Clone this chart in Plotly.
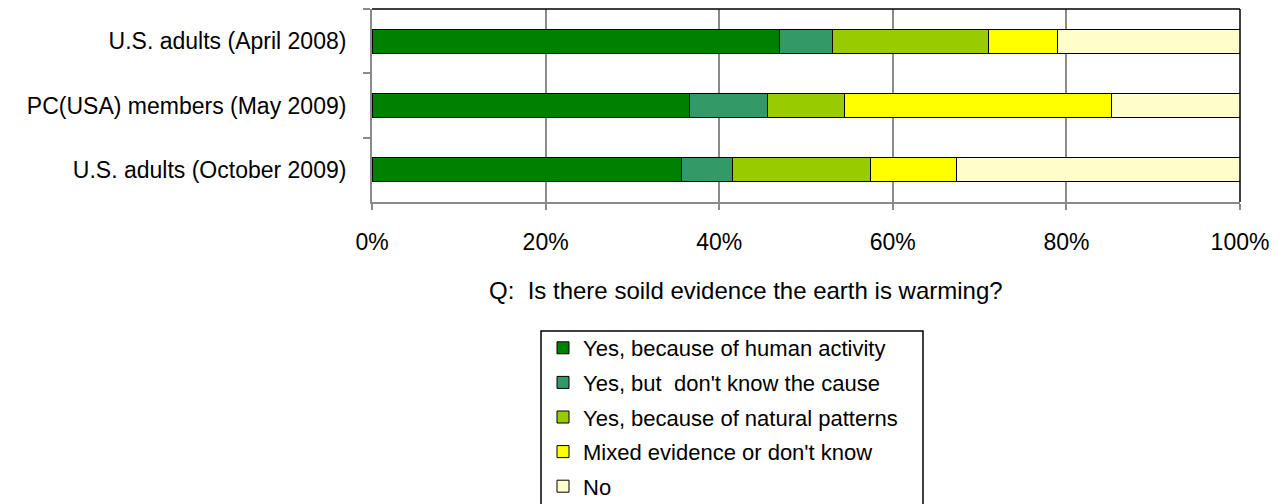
import plotly.graph_objects as go

# Survey groups (top to bottom) and response shares in percent
groups = ["U.S. adults (April 2008)", "PC(USA) members (May 2009)", "U.S. adults (October 2009)"]
human_activity = [47, 37, 36]
unknown_cause = [6, 9, 6]
natural_patterns = [18, 9, 16]
mixed_or_unsure = [8, 31, 10]
no_evidence = [21, 15, 33]

series_names = [
    "Yes, because of human activity",
    "Yes, but  don't know the cause",
    "Yes, because of natural patterns",
    "Mixed evidence or don't know",
    "No",
]
series_values = [human_activity, unknown_cause, natural_patterns, mixed_or_unsure, no_evidence]
series_colors = ["#008000", "#339966", "#99CC00", "#FFFF00", "#FFFFCC"]

x_ticks = [0, 20, 40, 60, 80, 100]
x_tick_text = ["0%", "20%", "40%", "60%", "80%", "100%"]

FONT = "Liberation Sans, Arial, sans-serif"
GRID = "#8a8a8a"

fig = go.Figure()
for i, (name, vals, color) in enumerate(zip(series_names, series_values, series_colors)):
    fig.add_trace(go.Bar(
        y=groups,
        x=vals,
        name=name,
        orientation="h",
        legendgroup=f"g{i}",
        marker=dict(color=color, line=dict(color="#000000", width=1)),
    ))

W, H = 1284, 504
L, R, T, B = 372, 44, 9, 302
PW, PH = W - L - R, H - T - B


def px_x(px):
    """Horizontal page pixel -> paper fraction of the plotting area."""
    return (px - L) / PW


def px_y(py):
    """Vertical page pixel (from top) -> paper fraction of the plotting area."""
    return (H - B - py) / PH


fig.update_layout(
    width=W,
    height=H,
    margin=dict(l=L, r=R, t=T, b=B, autoexpand=False),
    barmode="stack",
    barnorm="percent",
    bargap=0.63,
    paper_bgcolor="white",
    plot_bgcolor="white",
    font=dict(family=FONT, size=22, color="#000000"),
    showlegend=True,
    legend=dict(
        x=px_x(543),
        y=px_y(327),
        xanchor="left",
        yanchor="top",
        traceorder="grouped",
        tracegroupgap=3,
        borderwidth=0,
        bgcolor="rgba(0,0,0,0)",
        font=dict(family=FONT, size=22, color="#000000"),
    ),
    xaxis=dict(
        range=[0, 100],
        tickvals=x_ticks,
        ticktext=x_tick_text,
        tickfont=dict(size=23),
        showgrid=True,
        gridcolor=GRID,
        gridwidth=2,
        zeroline=False,
        showline=True,
        linecolor=GRID,
        linewidth=2,
        ticks="outside",
        ticklen=6,
        tickwidth=2,
        tickcolor=GRID,
        ticklabelstandoff=12,
        fixedrange=True,
    ),
    yaxis=dict(
        categoryorder="array",
        categoryarray=groups,
        autorange="reversed",
        tickfont=dict(size=23),
        showgrid=False,
        zeroline=False,
        showline=True,
        linecolor=GRID,
        linewidth=2,
        ticks="outside",
        tickson="boundaries",
        ticklen=7,
        tickwidth=2,
        tickcolor=GRID,
        ticklabelstandoff=19,
        fixedrange=True,
    ),
)

# Dark frame on the top and right edges of the plotting area
fig.add_shape(type="line", xref="paper", yref="paper", x0=0, x1=1, y0=1, y1=1,
              line=dict(color="#000000", width=1.5))
fig.add_shape(type="line", xref="paper", yref="paper", x0=1, x1=1, y0=0, y1=1,
              line=dict(color="#000000", width=1.5))

# Legend box
fig.add_shape(type="rect", xref="paper", yref="paper",
              x0=px_x(541), x1=px_x(923), y0=px_y(520), y1=px_y(331),
              line=dict(color="#000000", width=1.5), fillcolor="rgba(0,0,0,0)",
              layer="below")

# Question caption under the axis
fig.add_annotation(
    text="Q:\u00a0\u00a0Is there soild evidence the earth is warming?",
    xref="paper", yref="paper",
    x=px_x(746),
    y=px_y(290),
    xanchor="center", yanchor="middle",
    showarrow=False,
    font=dict(family=FONT, size=24, color="#000000"),
)

fig.write_html("out.html")
